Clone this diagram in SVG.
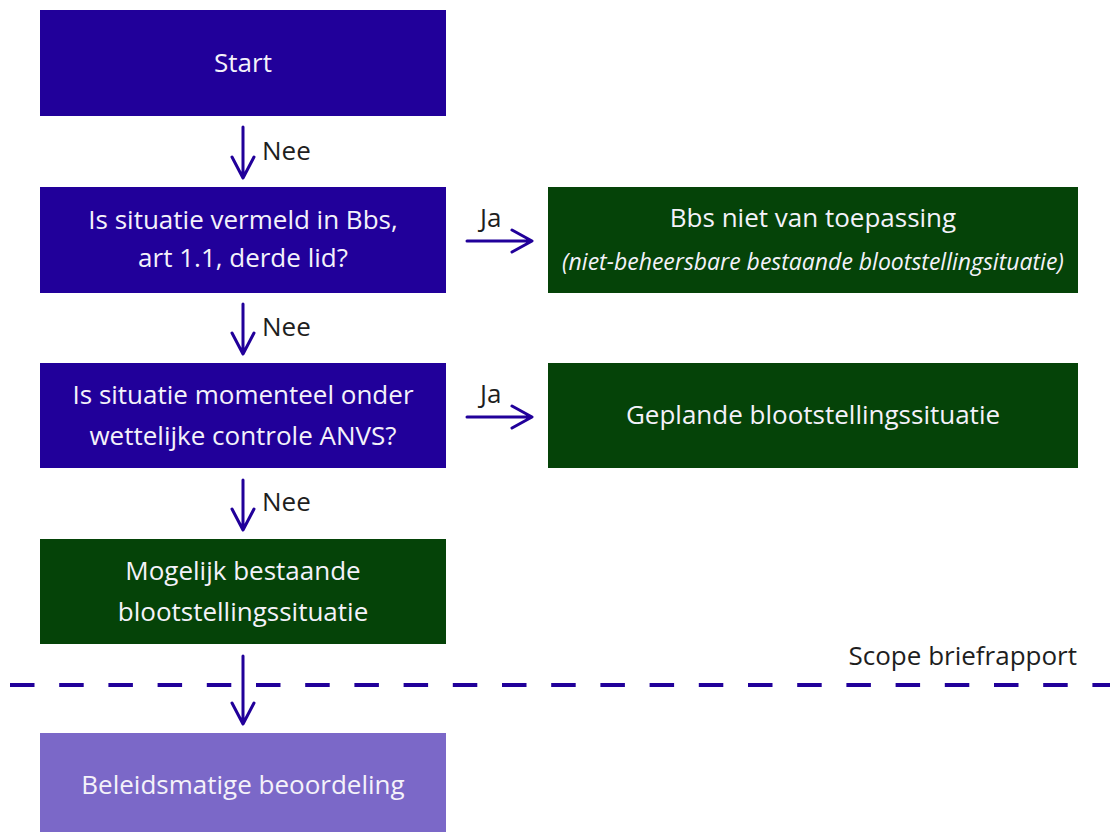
<svg xmlns="http://www.w3.org/2000/svg" width="1110" height="832" viewBox="0 0 1110 832">
<style>
.bl{fill:#21009a}
.gr{fill:#054308}
.pu{fill:#7b68c8}
.t{font-family:"Open Sans","Noto Sans",sans-serif;font-size:26px;fill:#f4f2fa;text-anchor:middle}
.ti{font-family:"Open Sans","Noto Sans",sans-serif;font-size:23px;font-style:italic;fill:#f4f2fa;text-anchor:middle}
.lb{font-family:"Open Sans","Noto Sans",sans-serif;font-size:26px;fill:#1e1e1e}
.ar{fill:none;stroke:#21009a;stroke-width:3;stroke-linecap:round;stroke-linejoin:round}
</style>
<rect width="1110" height="832" fill="#ffffff"/>
<g id="start"><rect class="bl" x="40" y="10" width="406" height="106"/><text class="t" x="243" y="72">Start</text></g>
<g id="q1"><rect class="bl" x="40" y="187" width="406" height="106"/><text class="t" x="243" y="229">Is situatie vermeld in Bbs,</text><text class="t" x="243" y="267">art 1.1, derde lid?</text></g>
<g id="bbs"><rect class="gr" x="548" y="187" width="530" height="106"/><text class="t" x="813" y="227">Bbs niet van toepassing</text><text class="ti" x="813" y="270">(niet-beheersbare bestaande blootstellingsituatie)</text></g>
<g id="q2"><rect class="bl" x="40" y="363" width="406" height="105"/><text class="t" x="243" y="404">Is situatie momenteel onder</text><text class="t" x="243" y="445">wettelijke controle ANVS?</text></g>
<g id="gepland"><rect class="gr" x="548" y="363" width="530" height="105"/><text class="t" x="813" y="424">Geplande blootstellingssituatie</text></g>
<g id="mogelijk"><rect class="gr" x="40" y="539" width="406" height="105"/><text class="t" x="243" y="580">Mogelijk bestaande</text><text class="t" x="243" y="621">blootstellingssituatie</text></g>
<g id="beleid"><rect class="pu" x="40" y="733" width="406" height="99"/><text class="t" x="243" y="794">Beleidsmatige beoordeling</text></g>
<g id="scope"><line x1="10" y1="685" x2="1110" y2="685" stroke="#21009a" stroke-width="4" stroke-dasharray="24.5 24.7"/><text class="lb" x="1077" y="665" text-anchor="end">Scope briefrapport</text></g>
<g id="connectors">
<path class="ar" d="M243 127V177M232 157L243 178L254 157"/>
<path class="ar" d="M243 304V353M232 333L243 354L254 333"/>
<path class="ar" d="M243 480V529M232 509L243 530L254 509"/>
<path class="ar" d="M243 656V723M232 703L243 724L254 703"/>
<path class="ar" d="M467 241H531M512 230L532 241L512 252"/>
<path class="ar" d="M467 417H531M512 406L532 417L512 428"/>
<text class="lb" x="262" y="160">Nee</text>
<text class="lb" x="262" y="336">Nee</text>
<text class="lb" x="262" y="511">Nee</text>
<text class="lb" x="480" y="227">Ja</text>
<text class="lb" x="480" y="403">Ja</text>
</g>
</svg>
